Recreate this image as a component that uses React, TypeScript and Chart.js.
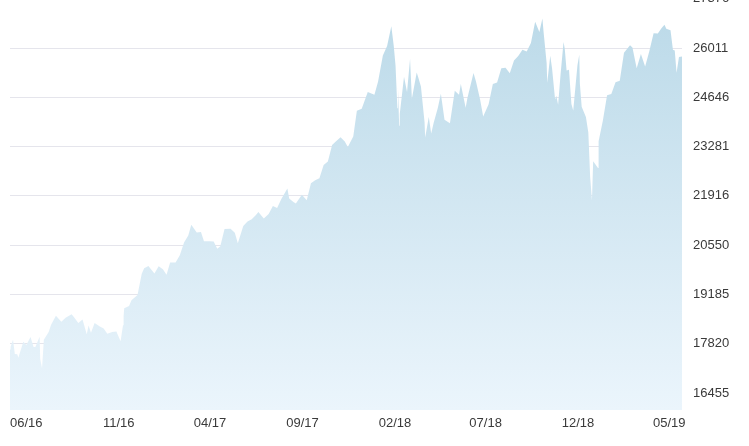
import { useEffect, useRef } from "react";
import { Chart, registerables } from "chart.js";
Chart.register(...registerables);

const dates = [
  "2016-05-05","2016-05-06","2016-05-10","2016-05-13","2016-05-17","2016-05-19","2016-05-20","2016-05-24","2016-05-27",
  "2016-06-01","2016-06-08","2016-06-13","2016-06-16","2016-06-23","2016-06-24","2016-06-27","2016-06-30",
  "2016-07-08","2016-07-12","2016-07-20","2016-07-29","2016-08-05","2016-08-15","2016-08-19","2016-08-26",
  "2016-09-02","2016-09-09","2016-09-12","2016-09-16","2016-09-22","2016-09-30","2016-10-07","2016-10-13",
  "2016-10-21","2016-10-28","2016-11-04","2016-11-08","2016-11-09","2016-11-10","2016-11-18","2016-11-22",
  "2016-12-02","2016-12-09","2016-12-13","2016-12-20","2016-12-30",
  "2017-01-06","2017-01-13","2017-01-19","2017-01-25","2017-02-03","2017-02-10","2017-02-17","2017-02-24",
  "2017-03-01","2017-03-10","2017-03-17","2017-03-22","2017-03-31","2017-04-07","2017-04-13","2017-04-18",
  "2017-04-25","2017-05-05","2017-05-12","2017-05-17","2017-05-26","2017-06-02","2017-06-09","2017-06-16",
  "2017-06-20","2017-06-29","2017-07-07","2017-07-14","2017-07-21","2017-07-28","2017-08-07","2017-08-10",
  "2017-08-17","2017-08-21","2017-08-31","2017-09-08","2017-09-15","2017-09-22","2017-09-29","2017-10-06",
  "2017-10-13","2017-10-20","2017-10-27","2017-11-03","2017-11-10","2017-11-15","2017-11-24","2017-11-30",
  "2017-12-08","2017-12-18","2017-12-29",
  "2018-01-04","2018-01-12","2018-01-19","2018-01-26","2018-01-30","2018-02-02","2018-02-05","2018-02-06",
  "2018-02-08","2018-02-09","2018-02-16","2018-02-21","2018-02-26","2018-03-01","2018-03-09","2018-03-12",
  "2018-03-16","2018-03-22","2018-03-23","2018-03-29","2018-04-02","2018-04-06","2018-04-13","2018-04-18",
  "2018-04-24","2018-05-03","2018-05-11","2018-05-18","2018-05-21","2018-05-29","2018-06-01","2018-06-11",
  "2018-06-15","2018-06-22","2018-06-27","2018-07-06","2018-07-13","2018-07-20","2018-07-27","2018-08-03",
  "2018-08-10","2018-08-17","2018-08-24","2018-08-31","2018-09-07","2018-09-14","2018-09-21","2018-09-28",
  "2018-10-03","2018-10-05","2018-10-10","2018-10-11","2018-10-16","2018-10-19","2018-10-24","2018-10-26",
  "2018-10-29","2018-11-02","2018-11-07","2018-11-09","2018-11-12","2018-11-16","2018-11-20","2018-11-23",
  "2018-11-30","2018-12-03","2018-12-04","2018-12-07","2018-12-14","2018-12-18","2018-12-21","2018-12-24",
  "2018-12-26",
  "2019-01-03","2019-01-04","2019-01-11","2019-01-18","2019-01-25","2019-02-01","2019-02-08","2019-02-15",
  "2019-02-25","2019-03-01","2019-03-08","2019-03-15","2019-03-22","2019-03-29","2019-04-05","2019-04-12",
  "2019-04-18","2019-04-23","2019-04-26","2019-05-03","2019-05-07","2019-05-10","2019-05-13","2019-05-17",
  "2019-05-22",
];

const values = [
  17661,17740,17928,17535,17530,17435,17500,17706,17873,
  17789,18005,17732,17733,18011,17400,17140,17930,
  18147,18347,18595,18432,18543,18636,18552,18395,
  18492,18085,18325,18124,18392,18308,18240,18099,
  18145,18161,17888,18332,18589,18807,18868,19023,
  19170,19757,19911,19974,19763,
  19964,19885,19732,20068,20071,20269,20624,20822,
  21115,20903,20915,20661,20663,20656,20453,20523,
  20996,21007,20897,20606,21080,21206,21272,21384,
  21467,21287,21414,21638,21580,21830,22118,21844,
  21750,21703,21948,21798,22268,22350,22405,22774,
  22871,23329,23434,23539,23422,23272,23558,24272,
  24329,24792,24719,
  25075,25803,26071,26616,26077,25520,24345,24912,
  23860,24190,25219,24797,25709,24608,25336,25178,
  24946,23957,23533,24103,23644,23933,24360,24748,
  24024,23930,24831,24715,25013,24361,24635,25322,
  25090,24581,24117,24456,25019,25058,25451,25463,
  25313,25669,25790,25965,25917,26155,26743,26458,
  26828,26447,25598,25053,25798,25444,24583,24688,
  24443,25270,26180,25989,25387,25413,24465,24285,
  25538,25826,25027,24389,24101,23675,22445,21792,
  22878,
  22686,23433,23996,24706,24737,25064,25106,25883,
  26091,26026,25450,25849,25502,25929,26425,26412,
  26559,26656,26543,26505,25965,25942,25324,25764,
  25776,
];

const xTickLabels = ["06/16", "11/16", "04/17", "09/17", "02/18", "07/18", "12/18", "05/19"];
const yTickValues = [16455, 17820, 19185, 20550, 21916, 23281, 24646, 26011, 27376];

const DAY = 86400000;
const t0 = Date.parse(dates[0] + "T00:00:00Z");
const dayOf = (d: string) => (Date.parse(d + "T00:00:00Z") - t0) / DAY;
const tickDay = (lbl: string) => {
  const [mm, yy] = lbl.split("/").map(Number);
  return (Date.UTC(2000 + yy, mm - 1, 1) - t0) / DAY;
};

export default function App() {
  const ref = useRef<HTMLCanvasElement | null>(null);
  useEffect(() => {
    if (!ref.current) return;
    const points = dates.map((d, i) => ({ x: dayOf(d), y: values[i] }));
    const font = { family: "'Liberation Sans', Arial, sans-serif", size: 13 };
    const chart = new Chart(ref.current, {
      type: "line",
      data: {
        datasets: [
          {
            data: points,
            fill: "start",
            borderWidth: 0,
            borderColor: "rgba(0,0,0,0)",
            pointRadius: 0,
            tension: 0,
            backgroundColor: (ctx: any) => {
              const a = ctx.chart.chartArea;
              if (!a) return "#cfe5f0";
              const g = ctx.chart.ctx.createLinearGradient(0, a.top, 0, a.bottom);
              g.addColorStop(0, "#bad9e8");
              g.addColorStop(1, "#ebf5fc");
              return g;
            },
          },
        ],
      },
      options: {
        responsive: false,
        animation: false,
        devicePixelRatio: 1,
        layout: { padding: { top: 18, left: 10, right: 0, bottom: 0 } },
        plugins: { legend: { display: false }, tooltip: { enabled: false } },
        scales: {
          x: {
            type: "linear",
            min: 0,
            max: dayOf(dates[dates.length - 1]),
            grid: { display: false, drawTicks: false },
            border: { display: false },
            afterBuildTicks: (s: any) => {
              s.ticks = xTickLabels.map((l) => ({ value: tickDay(l) }));
            },
            afterFit: (s: any) => {
              s.height = 36;
            },
            ticks: {
              autoSkip: false,
              maxRotation: 0,
              padding: 6,
              color: "#3a3a3a",
              font,
              callback: (v: any) => {
                const i = xTickLabels.findIndex((l) => Math.abs(tickDay(l) - Number(v)) < 0.5);
                return i >= 0 ? xTickLabels[i] : "";
              },
            },
          },
          y: {
            position: "right",
            min: 15985,
            max: 27376,
            grid: { color: "#e5e5ec", lineWidth: 1, drawTicks: false },
            border: { display: false },
            afterBuildTicks: (s: any) => {
              s.ticks = yTickValues.map((v) => ({ value: v }));
            },
            afterFit: (s: any) => {
              s.width = 67;
            },
            ticks: {
              padding: 11,
              color: "#3a3a3a",
              font,
              callback: (v: any) => String(v),
            },
          },
        },
      },
    });
    return () => chart.destroy();
  }, []);

  return (
    <div style={{ position: "fixed", left: 0, top: 0, width: 749, height: 446, overflow: "hidden", background: "#fff" }}>
      <canvas
        ref={ref}
        width={749}
        height={466}
        style={{ position: "absolute", left: 0, top: -20, width: 749, height: 466 }}
      />
    </div>
  );
}
